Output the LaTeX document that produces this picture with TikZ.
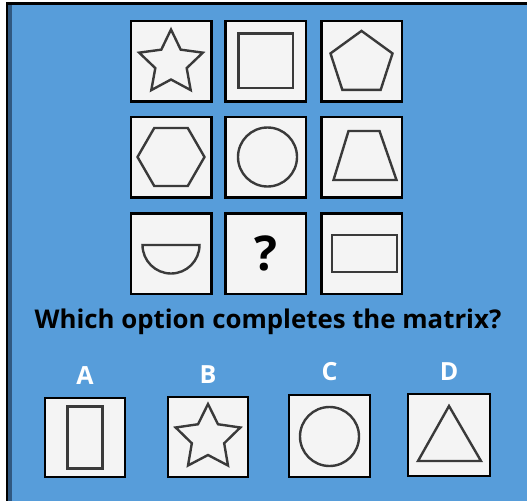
\documentclass[tikz,border=0pt]{standalone}
\usepackage{fontspec}
\setmainfont{Open Sans}
\usetikzlibrary{positioning,calc}
\definecolor{panelbg}{RGB}{87,157,218}
\definecolor{edgebg}{RGB}{48,88,128}
\definecolor{cellbg}{RGB}{244,244,244}
\definecolor{shapeline}{RGB}{58,58,58}

\begin{document}
\begin{tikzpicture}[x=1pt, y=-1pt,
    cell/.style={rectangle, draw=black, line width=2.5pt, fill=cellbg,
                 minimum size=80.5pt, inner sep=0pt},
    shp/.style={draw=shapeline, line width=2.4pt, line join=miter},
    optlabel/.style={text=white, font=\bfseries\fontsize{25}{25}\selectfont},
    question/.style={text=black, font=\bfseries\fontsize{25.8}{25.8}\selectfont}
]
% frame
\useasboundingbox (0,0) rectangle (527,501);
\fill[white] (0,0) rectangle (527,501);
\fill[black] (5.5,2) rectangle (527,501);
\fill[edgebg] (8,5) rectangle (12,501);
\fill[panelbg] (12,5) rectangle (527,501);

% matrix cells
\node[cell] (c11) at (171,61) {};
\node[cell] (c12) at (265.5,61) {};
\node[cell] (c13) at (361.5,61) {};
\node[cell] (c21) at (171,157) {};
\node[cell] (c22) at (265.5,157) {};
\node[cell] (c23) at (361.5,157) {};
\node[cell] (c31) at (171,253.5) {};
\node[cell] (c32) at (265.5,253.5) {\fontsize{48}{48}\selectfont\bfseries ?};
\node[cell] (c33) at (361.5,253.5) {};

% shapes in the cells
\begin{scope}[shift={(c11.center)}, y=1pt]
  \draw[shp] (0,-2) ++(90:33.5) \foreach \a in {0,...,4} {-- ($(0,-2)+(126+\a*72:16.5)$) -- ($(0,-2)+(162+\a*72:33.5)$)} -- cycle;
\end{scope}
\begin{scope}[shift={(c12.center)}, y=1pt]
  \draw[shp] (-27,-27) rectangle (27.5,27.5);
\end{scope}
\begin{scope}[shift={(c13.center)}, y=1pt]
  \draw[shp] (0,-2.5) ++(90:32.6) \foreach \a in {1,...,4} {-- ($(0,-2.5)+(90+\a*72:32.6)$)} -- cycle;
\end{scope}
\begin{scope}[shift={(c21.center)}, y=1pt]
  \draw[shp] (0:33.5) \foreach \a in {1,...,5} {-- (\a*60:33.5)} -- cycle;
\end{scope}
\begin{scope}[shift={(c22.center)}, y=1pt]
  \draw[shp] (2,0) circle (29.5);
\end{scope}
\begin{scope}[shift={(c23.center)}, y=1pt]
  \draw[shp] (-13,26) -- (18,26) -- (35,-23) -- (-28,-23) -- cycle;
\end{scope}
\begin{scope}[shift={(c31.center)}, y=1pt]
  \draw[shp] (-28.5,8.5) -- (28.5,8.5) arc (0:-180:28.5) -- cycle;
\end{scope}
\begin{scope}[shift={(c33.center)}, y=1pt]
  \draw[shp] (-29.5,18.5) rectangle (35.5,-18.5);
\end{scope}

% question
\node[question] (ask) at (268,322) {Which option completes the matrix?};

% options
\node[cell, minimum width=80pt, minimum height=79pt] (optA) at (85,437.5) {};
\node[cell, minimum width=80pt, minimum height=80pt] (optB) at (208,437) {};
\node[cell, minimum width=81pt, minimum height=82pt] (optC) at (329.5,436) {};
\node[cell, minimum width=82pt, minimum height=82pt] (optD) at (449,435) {};
\node[optlabel, above=9pt of optA] (labA) {A};
\node[optlabel, above=9pt of optB] (labB) {B};
\node[optlabel, above=9pt of optC] (labC) {C};
\node[optlabel, above=9pt of optD] (labD) {D};

\begin{scope}[shift={(optA.center)}, y=1pt]
  \draw[shp] (-17.5,31) rectangle (17.5,-31);
\end{scope}
\begin{scope}[shift={(optB.center)}, y=1pt]
  \draw[shp] (0,-1) ++(90:34) \foreach \a in {0,...,4} {-- ($(0,-1)+(126+\a*72:17)$) -- ($(0,-1)+(162+\a*72:34)$)} -- cycle;
\end{scope}
\begin{scope}[shift={(optC.center)}, y=1pt]
  \draw[shp] (0,-0.5) circle (29.5);
\end{scope}
\begin{scope}[shift={(optD.center)}, y=1pt]
  \draw[shp] (0,29) -- (32,-26) -- (-31,-26) -- cycle;
\end{scope}
\end{tikzpicture}
\end{document}
